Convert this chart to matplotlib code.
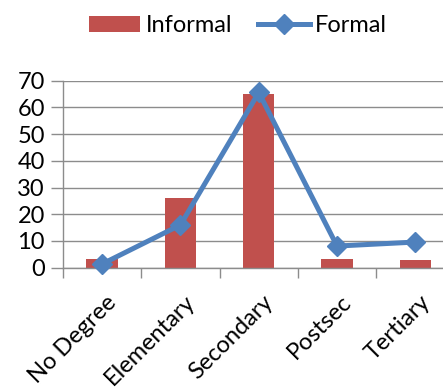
import matplotlib
matplotlib.use("Agg")
import matplotlib.pyplot as plt
from matplotlib.lines import Line2D
from matplotlib.patches import Patch
import numpy as np

categories = ["No Degree", "Elementary", "Secondary", "Postsec", "Tertiary"]
informal = [3.3, 26.0, 65.0, 3.1, 2.9]
formal = [1.4, 16.0, 65.6, 8.1, 9.6]
yticks = [0, 10, 20, 30, 40, 50, 60, 70]

bar_color = "#C0504D"
line_color = "#4F81BD"
grid_color = "#8C8C8C"

plt.rcParams["font.family"] = ["Lato", "DejaVu Sans"]
FS = 17

fig = plt.figure(figsize=(4.43, 3.92), dpi=100)
ax = fig.add_axes([63 / 443, 1 - 267.7 / 392, 391.5 / 443, 187 / 392])

x = np.arange(len(categories))
ax.bar(x, informal, width=0.4, color=bar_color, zorder=2)
ax.plot(x, formal, color=line_color, lw=3.6, marker="D", markersize=10,
        zorder=3, clip_on=False)

ax.set_xlim(-0.5, len(categories) - 0.5)
ax.set_ylim(0, 70)
ax.set_yticks(yticks)
ax.set_yticklabels([str(v) for v in yticks], fontsize=FS)
ax.yaxis.grid(True, color=grid_color, lw=1.0, zorder=0)
ax.set_axisbelow(True)

ax.set_xticks(np.arange(-0.5, len(categories) + 0.5, 1.0))
ax.set_xticklabels([])
ax.set_xticks(x + 0.05, minor=True)
ax.set_xticklabels(categories, minor=True, rotation=45, ha="right",
                   va="top", rotation_mode="anchor", fontsize=FS)
ax.tick_params(axis="x", which="minor", length=0, pad=17)
ax.tick_params(axis="x", which="major", length=7, color=grid_color, width=1)
ax.tick_params(axis="y", length=9, color=grid_color, width=1, pad=4)

for s in ["top", "right"]:
    ax.spines[s].set_visible(False)
for s in ["left", "bottom"]:
    ax.spines[s].set_color(grid_color)
    ax.spines[s].set_linewidth(1.0)

handles = [Patch(facecolor=bar_color, label="Informal"),
           Line2D([0], [0], color=line_color, lw=3.6, marker="D",
                  markersize=10, label="Formal")]
fig.legend(handles=handles, loc="center", bbox_to_anchor=(0.537, 1 - 26 / 392),
           ncol=2, frameon=False, fontsize=FS, handlelength=2.2,
           handleheight=0.64, handletextpad=0.22, columnspacing=1.1)

fig.savefig("out.png", dpi=100)
